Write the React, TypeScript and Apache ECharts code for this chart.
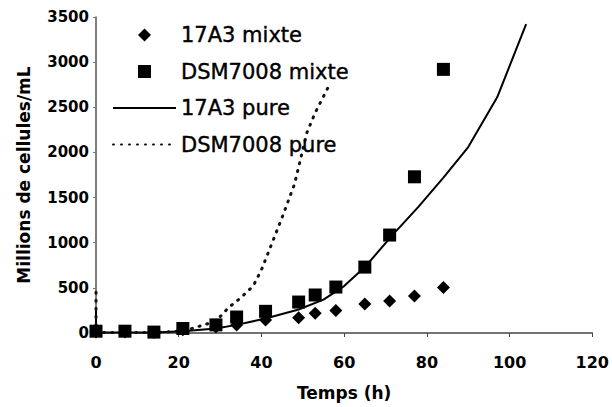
import React, { useEffect, useRef } from "react";
import * as echarts from "echarts";

// Mixed-culture measurements (time in h, millions of cells/mL)
const mixTimes = [0, 7, 14, 21, 29, 34, 41, 49, 53, 58, 65, 71, 77, 84];
const a17MixteValues = [10, 10, 5, 35, 66, 88, 144, 170, 220, 250, 320, 355, 410, 505];
const dsmMixteValues = [20, 20, 10, 50, 90, 177, 240, 343, 421, 509, 730, 1085, 1730, 2920];

// Pure-culture curves
const a17PureTimes = [0, 0, 7, 14, 21, 29, 34, 41, 49, 55, 60, 65, 72, 78, 84, 90, 97, 104];
const a17PureValues = [270, 5, 5, 5, 20, 50, 90, 160, 260, 370, 520, 730, 1100, 1400, 1720, 2060, 2610, 3420];
const dsmPureTimes = [0, 0, 7, 14, 21, 29, 32, 35, 38, 40, 42, 45, 48, 51, 53, 56];
const dsmPureValues = [450, 5, 5, 5, 20, 130, 280, 390, 520, 700, 930, 1280, 1650, 2220, 2440, 2710];

const seriesNames = ["17A3 mixte", "DSM7008 mixte", "17A3 pure", "DSM7008 pure"];
const xTicks = { min: 0, max: 120, interval: 20 };
const yTicks = { min: 0, max: 3500, interval: 500 };

const zip = (xs: number[], ys: number[]) => xs.map((x, i) => [x, ys[i]]);

const DIAMOND_ICON = "path://M0,-1L1,0L0,1L-1,0Z";
const SQUARE_ICON = "path://M0,0L1,0L1,1L0,1Z";

export default function App() {
  const ref = useRef<HTMLDivElement>(null);
  useEffect(() => {
    if (!ref.current) return;
    const chart = echarts.init(ref.current, null, { renderer: "svg" });
    const font = "DejaVu Sans";
    chart.setOption({
      animation: false,
      backgroundColor: "#fff",
      grid: { left: 96, right: 17, top: 17, bottom: 74 },
      legend: {
        orient: "vertical",
        left: 107,
        top: 18,
        itemWidth: 63,
        itemHeight: 13,
        itemGap: 12.5,
        symbolKeepAspect: true,
        data: [
          { name: seriesNames[0], icon: DIAMOND_ICON },
          { name: seriesNames[1], icon: SQUARE_ICON },
          { name: seriesNames[2], itemStyle: { opacity: 0 } },
          { name: seriesNames[3], itemStyle: { opacity: 0 } },
        ],
        textStyle: {
          fontFamily: font,
          fontSize: 21,
          color: "#000",
          lineHeight: 24,
          textBorderColor: "#000",
          textBorderWidth: 0.4,
        },
      },
      xAxis: {
        type: "value",
        ...xTicks,
        name: "Temps (h)",
        nameLocation: "middle",
        nameGap: 51,
        nameTextStyle: { fontFamily: font, fontSize: 17, fontWeight: "bold", color: "#000" },
        axisLine: { lineStyle: { color: "#444", width: 1.5 } },
        axisTick: { show: true, length: 4, lineStyle: { color: "#444" } },
        axisLabel: { fontFamily: font, fontSize: 16, fontWeight: "bold", color: "#000", margin: 21 },
        splitLine: { show: false },
      },
      yAxis: {
        type: "value",
        ...yTicks,
        name: "Millions de cellules/mL",
        nameLocation: "middle",
        nameGap: 64,
        nameTextStyle: { fontFamily: font, fontSize: 17, fontWeight: "bold", color: "#000" },
        axisLine: { show: true, lineStyle: { color: "#555", width: 1.5 } },
        axisTick: { show: true, length: 3, lineStyle: { color: "#777" } },
        axisLabel: {
          fontFamily: font,
          fontSize: 15,
          fontWeight: "bold",
          color: "#000",
          margin: 7,
          formatter: (v: number) => String(v),
        },
        splitLine: { show: false },
      },
      series: [
        {
          name: seriesNames[0],
          type: "scatter",
          symbol: "diamond",
          symbolSize: 13,
          itemStyle: { color: "#000", opacity: 1 },
          data: zip(mixTimes, a17MixteValues),
          z: 4,
        },
        {
          name: seriesNames[1],
          type: "scatter",
          symbol: "rect",
          symbolSize: 13,
          itemStyle: { color: "#000", opacity: 1 },
          data: zip(mixTimes, dsmMixteValues),
          z: 3,
        },
        {
          name: seriesNames[2],
          type: "line",
          symbol: "none",
          lineStyle: { color: "#000", width: 2 },
          itemStyle: { color: "#000" },
          data: zip(a17PureTimes, a17PureValues),
          z: 2,
        },
        {
          name: seriesNames[3],
          type: "line",
          symbol: "none",
          lineStyle: { color: "#111", width: 3, type: [1, 7], cap: "round" },
          itemStyle: { color: "#111" },
          data: zip(dsmPureTimes, dsmPureValues),
          z: 2,
        },
      ],
    });
    return () => chart.dispose();
  }, []);
  return <div ref={ref} style={{ width: 612, height: 407, position: "absolute", left: 0, top: 0 }} />;
}
